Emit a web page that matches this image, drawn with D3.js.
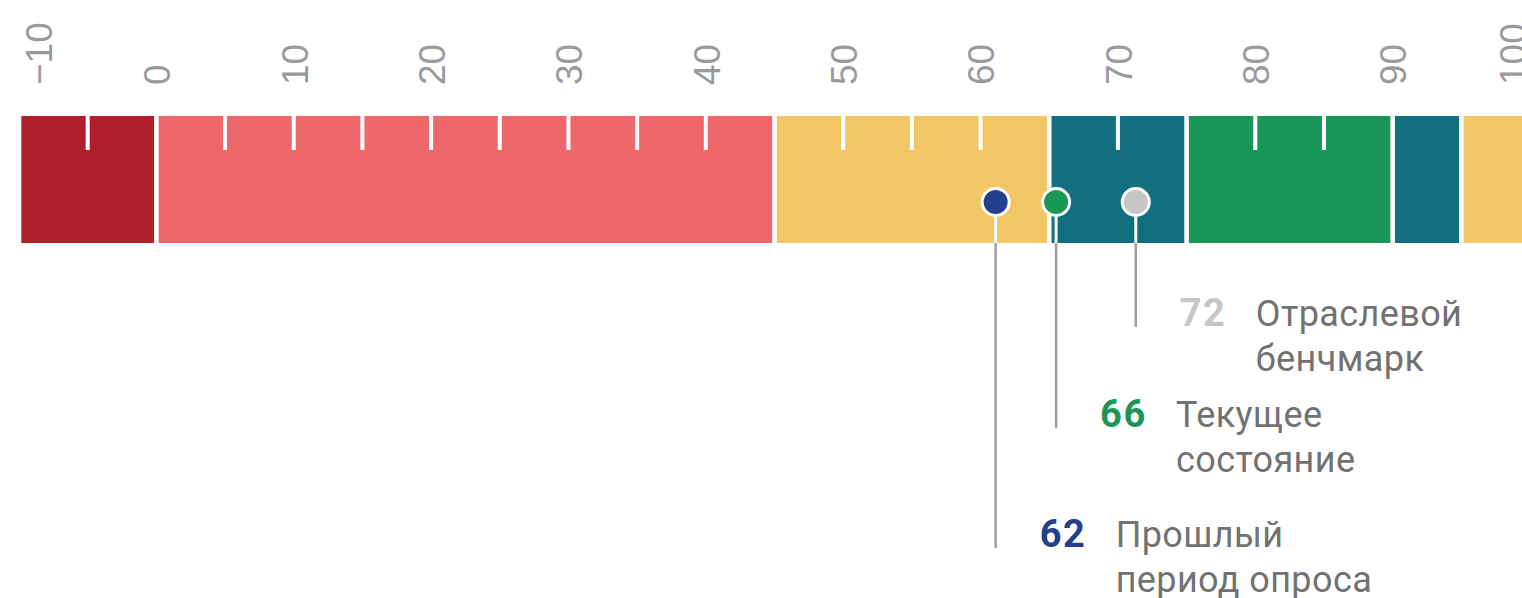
<!DOCTYPE html>
<html>
<head>
<meta charset="utf-8">
<script src="https://cdn.jsdelivr.net/npm/d3@7"></script>
<style>
  html, body { margin: 0; padding: 0; background: #fff; overflow: hidden; }
  svg { display: block; font-family: Roboto, "Noto Sans", sans-serif; }
  .axis text { fill: #9a9a9e; font-size: 37px; font-weight: 300; }
  .num { font-size: 38px; font-weight: 700; }
  .lbl { fill: #727272; font-size: 36px; letter-spacing: 0.4px; }
</style>
</head>
<body>
<svg class="scale" width="1522" height="598"></svg>
<script>
// scale zones
var zoneStart = [-10, 0, 45, 65, 75, 90, 95];
var zoneEnd   = [0, 45, 65, 75, 90, 95, 100];
var zoneColor = ["#b01f2b", "#ee676b", "#f2c664", "#126f80", "#1a9656", "#126f80", "#f2c664"];

// axis labels
var tickLabels = [-10, 0, 10, 20, 30, 40, 50, 60, 70, 80, 90, 100];

// markers: where the dot sits on the scale, the printed score, and the caption
var markerPos   = [61.1, 65.5, 71.3];
var markerScore = ["62", "66", "72"];
var markerColor = ["#253f8f", "#1a9656", "#c6c6c6"];
var markerText  = [["Прошлый", "период опроса"], ["Текущее", "состояние"], ["Отраслевой", "бенчмарк"]];

var svg = d3.select("svg.scale"),
    barTop = 116, barBottom = 243, tickH = 34, dotY = 202,
    rowY = [547, 427, 326];   // caption baselines

var x = d3.scaleLinear()
    .domain([-10, 100])
    .range([19, 1530]);

var g = svg.append("g");

// zones
g.selectAll(".zone")
  .data(zoneStart)
  .enter().append("rect")
    .attr("class", "zone")
    .attr("x", function(d) { return x(d) + 2.3; })
    .attr("y", barTop)
    .attr("width", function(d, i) { return x(zoneEnd[i]) - x(d) - 4.6; })
    .attr("height", barBottom - barTop)
    .attr("fill", function(d, i) { return zoneColor[i]; });

// small white notches every 5 points, except at zone borders
var notches = x.ticks(22).filter(function(v) {
  return zoneStart.indexOf(v) < 0 && zoneEnd.indexOf(v) < 0;
});
g.selectAll(".notch")
  .data(notches)
  .enter().append("rect")
    .attr("class", "notch")
    .attr("x", function(d) { return x(d) - 2; })
    .attr("y", barTop)
    .attr("width", 4)
    .attr("height", tickH)
    .attr("fill", "#fff");

// rotated labels on top
var axis = g.append("g")
    .attr("class", "axis")
    .attr("transform", "translate(0,85)")
    .call(d3.axisTop(x).tickValues(tickLabels).tickSize(0).tickFormat(d3.format("d")));
axis.select(".domain").remove();
axis.selectAll("text")
    .attr("x", 0)
    .attr("y", 0)
    .attr("dy", "0.36em")
    .attr("text-anchor", "start")
    .attr("transform", function(d) {
      var shift = d === -10 ? 19 : d === 100 ? -18 : 0;
      return "translate(" + shift + ",0) rotate(-90)";
    });

// markers
var mk = g.selectAll(".marker")
  .data(markerPos)
  .enter().append("g")
    .attr("class", "marker")
    .attr("transform", function(d) { return "translate(" + x(d) + ",0)"; });

mk.append("line")
    .attr("y1", barBottom)
    .attr("y2", function(d, i) { return rowY[i] + 1; })
    .attr("stroke", "#9d9d9d")
    .attr("stroke-width", 2.5);

mk.append("line")
    .attr("y1", dotY)
    .attr("y2", barBottom)
    .attr("stroke", "#fff")
    .attr("stroke-width", 3);

mk.append("circle")
    .attr("cy", dotY)
    .attr("r", 13.5)
    .attr("fill", function(d, i) { return markerColor[i]; })
    .attr("stroke", "#fff")
    .attr("stroke-width", 3);

mk.append("text")
    .attr("class", "num")
    .attr("x", 44)
    .attr("y", function(d, i) { return rowY[i]; })
    .attr("fill", function(d, i) { return markerColor[i]; })
    .style("letter-spacing", "1.5px")
    .text(function(d, i) { return markerScore[i]; });

var cap = mk.append("text")
    .attr("class", "lbl")
    .attr("x", 120)
    .attr("y", function(d, i) { return rowY[i]; });

cap.selectAll("tspan")
  .data(function(d, i) { return markerText[i]; })
  .enter().append("tspan")
    .attr("x", 120)
    .attr("dy", function(d, j) { return j === 0 ? 0 : 44.5; })
    .text(function(d) { return d; });
</script>
</body>
</html>
